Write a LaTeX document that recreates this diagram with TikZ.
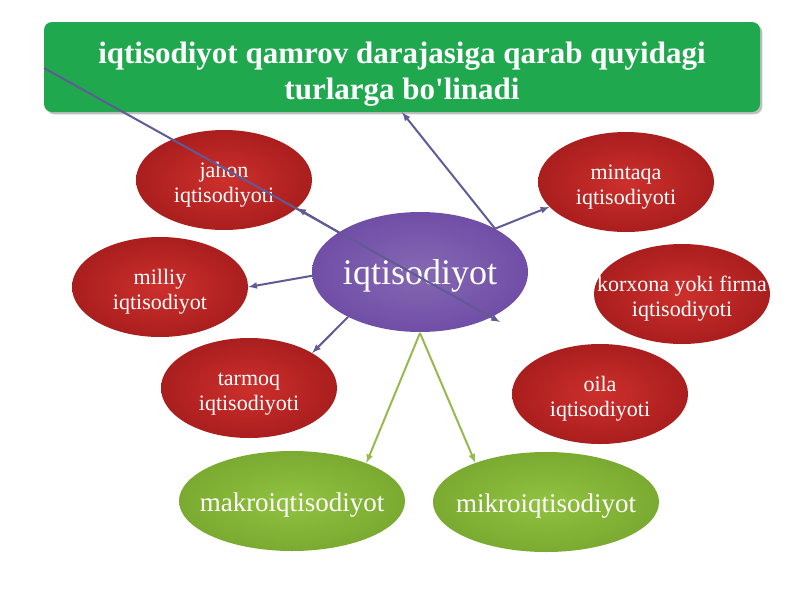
\documentclass[tikz,border=0pt]{standalone}
\usepackage{fontspec}
\setmainfont{Liberation Serif}
\usetikzlibrary{arrows,shapes,positioning,shadows}
\definecolor{bannergreen}{RGB}{32,168,78}
\definecolor{hubpurple}{RGB}{112,78,166}
\definecolor{branchred}{RGB}{204,48,44}
\definecolor{branchdark}{RGB}{170,30,30}
\definecolor{tiergreen}{RGB}{146,194,64}
\definecolor{tierdark}{RGB}{122,170,48}
\definecolor{linkblue}{RGB}{96,90,150}
\definecolor{linkgreen}{RGB}{150,186,78}
% text that may run past the ellipse without growing it
\newcommand{\fitin}[1]{\makebox[0pt][c]{#1}}
% a taller first line, to set the text a little lower
\newcommand{\tall}[1]{\rule{0pt}{#1}}
\tikzset{
  basic/.style   = {ellipse, inner sep=0pt, align=center, text=white},
  heading/.style = {rectangle, rounded corners=8pt, fill=bannergreen,
                    drop shadow, text=white, align=center,
                    minimum width=716pt, minimum height=90pt,
                    font=\bfseries\fontsize{31}{36}\selectfont},
  hub/.style     = {basic, shading=radial, inner color=hubpurple!85!white,
                    outer color=hubpurple, minimum width=216pt,
                    minimum height=120pt, execute at begin node={\rule{0pt}{33pt}},
                    font=\fontsize{36}{40}\selectfont},
  branch/.style  = {basic, shading=radial, inner color=branchred,
                    outer color=branchdark, minimum width=176pt,
                    minimum height=100pt, font=\fontsize{22}{25}\selectfont},
  tier/.style    = {basic, shading=radial, inner color=tiergreen,
                    outer color=tierdark, minimum width=226pt,
                    minimum height=100pt, execute at begin node={\rule{0pt}{27pt}},
                    font=\fontsize{27}{30}\selectfont}
}
\begin{document}
\begin{tikzpicture}[x=1pt, y=-1pt, >=latex]
	\useasboundingbox (0,0) rectangle (800,600);
	
	% title banner
	\node[heading] (top) at (402,67) {\tall{36pt}iqtisodiyot qamrov darajasiga qarab quyidagi\\ turlarga bo\textquotesingle linadi};
	
	% the types of economy, red
	\node[branch] (jahon) at (224,180) {\tall{24pt}jahon\\ iqtisodiyoti};
	\node[branch] (mintaqa) at (626,182) {\tall{24pt}mintaqa\\ iqtisodiyoti};
	\node[branch] (milliy) at (160,287) {\tall{24pt}milliy\\ iqtisodiyot};
	\node[branch] (korxona) at (682,294) {\tall{24pt}\fitin{korxona yoki firma}\\ iqtisodiyoti};
	\node[branch] (tarmoq) at (249,388) {\tall{24pt}tarmoq\\ iqtisodiyoti};
	\node[branch] (oila) at (600,394) {\tall{24pt}oila\\ iqtisodiyoti};
	
	% macro and micro, green
	\node[tier] (makro) at (292,501) {\fitin{makroiqtisodiyot}};
	\node[tier] (mikro) at (546,502) {\fitin{mikroiqtisodiyot}};
	
	% centre
	\node[hub] (iqt) at (420,272) {\fitin{iqtisodiyot}};
	
	% loose ends of the long stray line
	\coordinate (strayA) at (44,68);
	\coordinate (strayB) at (500,322);
	\coordinate (fork) at (420,333);
	
	% arrows from the centre to its types
	\begin{scope}[draw=linkblue, line width=2pt]
	\draw[->] (iqt.154) -- (jahon.-21);
	\draw[->] (iqt.30) -- (top.south);
	\draw[->] (iqt.30) -- (mintaqa.-162);
	\draw[->] (iqt.182) -- (milliy.east);
	\draw[->] (iqt.212) -- (tarmoq.29);
	\draw[->] (strayA) -- (strayB);
	\end{scope}
	
	\foreach \target in {makro.27,mikro.151}
	  \draw[->, draw=linkgreen, line width=2pt] (fork) -- (\target);
	
\end{tikzpicture}
\end{document}
